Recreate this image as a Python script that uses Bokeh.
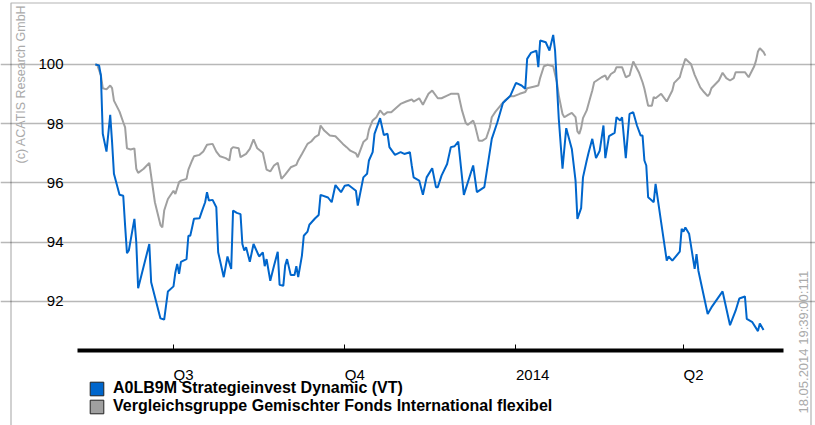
import math
import pandas as pd
from bokeh.plotting import figure
from bokeh.models import (Range1d, FixedTicker, Legend, LegendItem, Label, BoxAnnotation)
from bokeh.core.properties import value
from bokeh.embed import file_html
from bokeh.resources import INLINE

# ---------------- data ----------------
blue_name = "A0LB9M Strategieinvest Dynamic (VT)"
gray_name = "Vergleichsgruppe Gemischter Fonds International flexibel"

blue_dates = [
    "2013-05-20", "2013-05-22", "2013-05-23", "2013-05-24", "2013-05-26", "2013-05-28", "2013-05-29", "2013-05-30",
    "2013-06-02", "2013-06-04", "2013-06-05", "2013-06-06", "2013-06-07", "2013-06-10", "2013-06-11", "2013-06-12",
    "2013-06-18", "2013-06-19", "2013-06-24", "2013-06-26", "2013-06-28", "2013-07-01", "2013-07-02", "2013-07-03",
    "2013-07-04", "2013-07-05", "2013-07-08", "2013-07-09", "2013-07-10", "2013-07-11", "2013-07-12", "2013-07-15",
    "2013-07-16", "2013-07-18", "2013-07-19", "2013-07-20", "2013-07-22", "2013-07-24", "2013-07-25", "2013-07-28",
    "2013-07-30", "2013-07-31", "2013-08-01", "2013-08-02", "2013-08-04", "2013-08-06", "2013-08-07", "2013-08-08",
    "2013-08-09", "2013-08-11", "2013-08-13", "2013-08-16", "2013-08-18", "2013-08-19", "2013-08-20", "2013-08-22",
    "2013-08-24", "2013-08-26", "2013-08-27", "2013-08-29", "2013-08-30", "2013-08-31", "2013-09-02", "2013-09-04",
    "2013-09-05", "2013-09-06", "2013-09-08", "2013-09-09", "2013-09-11", "2013-09-12", "2013-09-15", "2013-09-17",
    "2013-09-18", "2013-09-22", "2013-09-24", "2013-09-26", "2013-09-29", "2013-10-01", "2013-10-03", "2013-10-07",
    "2013-10-08", "2013-10-11", "2013-10-13", "2013-10-14", "2013-10-16", "2013-10-17", "2013-10-20", "2013-10-22",
    "2013-10-24", "2013-10-25", "2013-10-28", "2013-10-31", "2013-11-02", "2013-11-05", "2013-11-06", "2013-11-07",
    "2013-11-10", "2013-11-12", "2013-11-14", "2013-11-17", "2013-11-19", "2013-11-20", "2013-11-22", "2013-11-25",
    "2013-11-27", "2013-11-29", "2013-12-01", "2013-12-04", "2013-12-09", "2013-12-11", "2013-12-15", "2013-12-19",
    "2013-12-22", "2013-12-25", "2013-12-29", "2014-01-01", "2014-01-04", "2014-01-06", "2014-01-07", "2014-01-09",
    "2014-01-12", "2014-01-13", "2014-01-14", "2014-01-17", "2014-01-19", "2014-01-21", "2014-01-22", "2014-01-24",
    "2014-01-26", "2014-01-28", "2014-01-31", "2014-02-02", "2014-02-03", "2014-02-05", "2014-02-06", "2014-02-08",
    "2014-02-09", "2014-02-11", "2014-02-13", "2014-02-15", "2014-02-17", "2014-02-18", "2014-02-20", "2014-02-23",
    "2014-02-24", "2014-02-26", "2014-02-27", "2014-03-01", "2014-03-03", "2014-03-05", "2014-03-07", "2014-03-09",
    "2014-03-10", "2014-03-11", "2014-03-12", "2014-03-13", "2014-03-15", "2014-03-16", "2014-03-17", "2014-03-20",
    "2014-03-23", "2014-03-24", "2014-03-26", "2014-03-30", "2014-03-31", "2014-04-01", "2014-04-02", "2014-04-04",
    "2014-04-07", "2014-04-08", "2014-04-09", "2014-04-14", "2014-04-16", "2014-04-22", "2014-04-26", "2014-04-29",
    "2014-05-01", "2014-05-04", "2014-05-05", "2014-05-08", "2014-05-11", "2014-05-12", "2014-05-14",
]
blue_values = [
    100.00, 99.97, 99.63, 97.66, 97.06, 98.30, 97.38, 96.31,
    95.60, 95.57, 94.56, 93.63, 93.72, 94.79, 94.00, 92.45,
    93.94, 92.65, 91.43, 91.39, 92.34, 92.51, 92.98, 93.27,
    92.93, 93.34, 93.43, 94.22, 94.22, 94.50, 94.79, 94.81,
    95.00, 95.35, 95.69, 95.41, 95.43, 95.18, 93.66, 92.82,
    93.52, 93.30, 93.10, 95.07, 94.99, 94.95, 93.94, 93.72,
    93.83, 93.34, 93.94, 93.52, 93.66, 93.19, 93.43, 92.70,
    93.21, 93.68, 92.56, 92.53, 93.21, 93.43, 92.89, 92.89,
    93.19, 92.82, 93.55, 94.22, 94.36, 94.59, 94.80, 94.92,
    95.60, 95.51, 95.35, 95.93, 95.69, 95.91, 95.93, 95.74,
    95.24, 96.19, 96.31, 96.76, 97.04, 97.66, 98.19, 97.62,
    97.66, 97.21, 96.95, 97.04, 96.98, 97.04, 96.59, 96.19,
    96.08, 95.60, 96.19, 96.50, 95.86, 95.86, 96.25, 96.64,
    97.21, 97.24, 97.40, 95.60, 96.59, 95.69, 95.86, 97.49,
    98.05, 98.70, 98.95, 99.38, 99.29, 99.18, 100.19, 100.39,
    100.47, 99.91, 100.81, 100.75, 100.47, 101.00, 100.47, 98.16,
    96.48, 97.85, 97.15, 96.08, 94.79, 95.15, 96.19, 96.76,
    97.02, 97.49, 96.84, 97.09, 97.94, 96.84, 97.58, 97.69,
    98.22, 98.11, 98.22, 96.84, 98.33, 98.39, 97.94, 97.60,
    97.60, 96.76, 96.59, 95.52, 95.41, 95.35, 95.97, 94.67,
    93.38, 93.52, 93.38, 93.68, 94.45, 94.36, 94.50, 94.29,
    93.10, 93.60, 93.04, 91.58, 91.80, 92.34, 91.20, 91.69,
    92.10, 92.17, 91.41, 91.30, 91.00, 91.26, 91.04,
]

gray_dates = [
    "2013-05-20", "2013-05-21", "2013-05-23", "2013-05-24", "2013-05-26", "2013-05-28", "2013-05-29", "2013-05-30",
    "2013-06-02", "2013-06-04", "2013-06-05", "2013-06-06", "2013-06-08", "2013-06-10", "2013-06-11", "2013-06-12",
    "2013-06-15", "2013-06-18", "2013-06-21", "2013-06-24", "2013-06-25", "2013-06-26", "2013-06-28", "2013-07-01",
    "2013-07-02", "2013-07-04", "2013-07-05", "2013-07-08", "2013-07-09", "2013-07-11", "2013-07-12", "2013-07-15",
    "2013-07-17", "2013-07-19", "2013-07-22", "2013-07-24", "2013-07-26", "2013-07-29", "2013-07-31", "2013-08-01",
    "2013-08-02", "2013-08-05", "2013-08-06", "2013-08-09", "2013-08-11", "2013-08-13", "2013-08-15", "2013-08-18",
    "2013-08-20", "2013-08-22", "2013-08-24", "2013-08-26", "2013-08-28", "2013-08-30", "2013-09-02", "2013-09-05",
    "2013-09-06", "2013-09-08", "2013-09-11", "2013-09-13", "2013-09-15", "2013-09-17", "2013-09-18", "2013-09-20",
    "2013-09-23", "2013-09-26", "2013-09-30", "2013-10-02", "2013-10-04", "2013-10-07", "2013-10-08", "2013-10-11",
    "2013-10-13", "2013-10-14", "2013-10-16", "2013-10-18", "2013-10-20", "2013-10-22", "2013-10-24", "2013-10-26",
    "2013-10-29", "2013-10-31", "2013-11-03", "2013-11-06", "2013-11-07", "2013-11-10", "2013-11-12", "2013-11-15",
    "2013-11-17", "2013-11-20", "2013-11-22", "2013-11-25", "2013-11-27", "2013-12-01", "2013-12-03", "2013-12-05",
    "2013-12-06", "2013-12-09", "2013-12-10", "2013-12-12", "2013-12-14", "2013-12-16", "2013-12-18", "2013-12-19",
    "2013-12-21", "2013-12-24", "2013-12-26", "2013-12-29", "2013-12-31", "2014-01-03", "2014-01-06", "2014-01-07",
    "2014-01-11", "2014-01-13", "2014-01-14", "2014-01-16", "2014-01-18", "2014-01-21", "2014-01-23", "2014-01-24",
    "2014-01-26", "2014-01-27", "2014-01-29", "2014-01-31", "2014-02-02", "2014-02-03", "2014-02-04", "2014-02-05",
    "2014-02-06", "2014-02-08", "2014-02-10", "2014-02-11", "2014-02-12", "2014-02-16", "2014-02-18", "2014-02-19",
    "2014-02-21", "2014-02-23", "2014-02-24", "2014-02-27", "2014-03-01", "2014-03-03", "2014-03-05", "2014-03-08",
    "2014-03-10", "2014-03-11", "2014-03-13", "2014-03-15", "2014-03-16", "2014-03-17", "2014-03-20", "2014-03-23",
    "2014-03-26", "2014-03-27", "2014-03-30", "2014-03-31", "2014-04-02", "2014-04-05", "2014-04-07", "2014-04-10",
    "2014-04-12", "2014-04-14", "2014-04-15", "2014-04-16", "2014-04-20", "2014-04-22", "2014-04-24", "2014-04-26",
    "2014-04-28", "2014-04-29", "2014-05-02", "2014-05-04", "2014-05-06", "2014-05-09", "2014-05-10", "2014-05-11",
    "2014-05-12", "2014-05-14", "2014-05-15",
]
gray_values = [
    100.00, 99.99, 99.63, 99.20, 99.16, 99.29, 99.20, 98.78,
    98.41, 98.05, 97.88, 97.17, 97.13, 97.17, 96.48, 96.34,
    96.48, 96.68, 95.35, 94.58, 94.50, 95.07, 95.46, 95.74,
    95.63, 96.03, 96.08, 96.14, 96.45, 96.76, 96.90, 96.95,
    97.06, 97.29, 97.32, 97.06, 96.90, 96.84, 96.76, 97.15,
    97.21, 97.17, 96.87, 96.98, 97.15, 97.47, 97.17, 97.02,
    96.45, 96.39, 96.59, 96.68, 96.14, 96.28, 96.53, 96.61,
    96.76, 96.98, 97.32, 97.40, 97.55, 97.62, 97.94, 97.77,
    97.60, 97.58, 97.32, 97.21, 97.09, 97.00, 96.87, 97.38,
    97.49, 97.80, 98.11, 98.22, 98.45, 98.30, 98.39, 98.39,
    98.56, 98.67, 98.75, 98.82, 98.75, 98.86, 98.64, 99.01,
    99.12, 98.86, 98.86, 98.95, 99.01, 99.01, 98.45, 98.03,
    97.96, 98.11, 97.94, 97.43, 97.43, 97.51, 97.88, 98.22,
    98.41, 98.64, 98.78, 98.93, 98.93, 99.01, 99.07, 99.20,
    99.26, 99.29, 99.55, 99.94, 99.99, 99.94, 99.40, 98.95,
    98.33, 98.22, 98.30, 98.37, 98.22, 97.74, 97.66, 97.85,
    98.19, 98.45, 98.90, 99.12, 99.40, 99.57, 99.63, 99.48,
    99.68, 99.76, 99.91, 99.91, 99.57, 99.63, 100.10, 99.74,
    99.40, 99.18, 98.61, 98.61, 98.90, 98.86, 99.01, 98.75,
    99.12, 99.38, 99.57, 99.80, 100.19, 100.02, 99.65, 99.23,
    99.07, 98.93, 99.01, 99.20, 99.46, 99.72, 99.54, 99.46,
    99.54, 99.74, 99.74, 99.74, 99.57, 99.94, 100.14, 100.44,
    100.55, 100.42, 100.30,
]

tick_dates = ["2013-07-01", "2013-10-01", "2014-01-01", "2014-04-01"]
tick_labels = ["Q3", "Q4", "2014", "Q2"]
y_ticks = [92, 94, 96, 98, 100]
copyright_text = "(c) ACATIS Research GmbH"
stamp_text = "18.05.2014 19:39:00:111"

# ---------------- layout (the frame covers the whole canvas) ----------------
W, H = 815, 425
X_START = pd.Timestamp("2013-03-30 01:19")
X_END = pd.Timestamp("2014-06-10 22:05")
Y_BOTTOM, Y_TOP = 87.814, 102.160


def ms(ts):
    return ts.value / 1e6


def x_at(px):          # canvas pixel -> datetime (ms)
    return ms(X_START) + (ms(X_END) - ms(X_START)) * px / W


def y_at(py):          # canvas pixel (from top) -> value
    return Y_TOP - (Y_TOP - Y_BOTTOM) * py / H


FONT = "Liberation Sans"
BLUE = "#0066cc"
GRAY = "#a0a0a0"

p = figure(
    width=W, height=H,
    x_axis_type="datetime",
    x_range=Range1d(X_START, X_END),
    y_range=Range1d(Y_BOTTOM, Y_TOP),
    output_backend="svg", toolbar_location=None,
    min_border=0, min_border_left=0, min_border_right=0, min_border_top=0, min_border_bottom=0,
)
p.outline_line_color = None
p.background_fill_color = "white"
p.border_fill_color = "white"

plot_left, plot_right = x_at(77), x_at(783)

# grid lines (y only), limited to the plot area
p.xgrid.grid_line_color = None
p.ygrid.ticker = FixedTicker(ticks=y_ticks)
p.ygrid.bounds = (plot_left, plot_right)
p.ygrid.grid_line_color = "#b8b8b8"
p.ygrid.grid_line_width = 1.5

# series
p.line(x=pd.to_datetime(gray_dates), y=gray_values, line_color=GRAY, line_width=2)
p.line(x=pd.to_datetime(blue_dates), y=blue_values, line_color=BLUE, line_width=2)

# x axis, fixed inside the canvas; its labels start at the tick (left aligned)
tick_ms = [ms(pd.Timestamp(d)) for d in tick_dates]
xa = p.xaxis[0]
xa.fixed_location = y_at(349.5)
xa.bounds = (plot_left, plot_right)
xa.ticker = FixedTicker(ticks=tick_ms)
xa.major_label_overrides = {t: "" for t in tick_ms}
xa.axis_line_color = "black"
xa.axis_line_width = 4
xa.major_tick_in = 6
xa.major_tick_out = 0
xa.major_tick_line_color = "black"
xa.major_tick_line_width = 1
xa.minor_tick_line_color = None
xa.minor_tick_in = 0
xa.minor_tick_out = 0

p.text(x=pd.to_datetime(tick_dates), y=[y_at(374)] * len(tick_dates), text=tick_labels,
       text_font=value(FONT), text_font_size="15px", text_color="black",
       text_align="left", text_baseline="middle")

# y axis, fixed at the left edge of the plot area
ya = p.yaxis[0]
ya.fixed_location = plot_left
ya.ticker = FixedTicker(ticks=y_ticks)
ya.axis_line_color = None
ya.major_tick_line_color = None
ya.minor_tick_line_color = None
ya.major_tick_in = 0
ya.major_tick_out = 0
ya.minor_tick_in = 0
ya.minor_tick_out = 0
ya.major_label_text_font = FONT
ya.major_label_text_font_size = "15px"
ya.major_label_text_color = "black"
ya.major_label_standoff = 14

# legend with square swatches (placeholder renderers hold no visible point)
nan = float("nan")
sw_blue = p.rect(x=[nan], y=[nan], width=1, height=1, fill_color=BLUE, line_color="#222222", line_width=1)
sw_gray = p.rect(x=[nan], y=[nan], width=1, height=1, fill_color=GRAY, line_color="#222222", line_width=1)
legend = Legend(
    items=[LegendItem(label=blue_name, renderers=[sw_blue]),
           LegendItem(label=gray_name, renderers=[sw_gray])],
    location=(88, 10), orientation="vertical",
    glyph_width=17, glyph_height=17, label_height=17, label_standoff=8, spacing=0,
    padding=0, margin=0, border_line_color=None, background_fill_alpha=0,
    label_text_font=FONT, label_text_font_style="bold", label_text_font_size="16px",
    label_text_color="black",
)
p.add_layout(legend)

# side texts (screen units: from the canvas bottom-left)
p.add_layout(Label(x=20, y=H - 163, x_units="screen", y_units="screen", angle=math.pi / 2,
                   text=copyright_text, text_font=FONT, text_font_size="12.5px",
                   text_color="#aaaaaa", text_align="left", text_baseline="middle"))
p.add_layout(Label(x=803, y=H - 413, x_units="screen", y_units="screen", angle=math.pi / 2,
                   text=stamp_text, text_font=FONT, text_font_size="13px",
                   text_color="#aaaaaa", text_align="left", text_baseline="middle"))

# outer frame
p.add_layout(BoxAnnotation(left=10.5, right=810.5, top=2.5, bottom=700,
                           left_units="canvas", right_units="canvas",
                           top_units="canvas", bottom_units="canvas",
                           fill_alpha=0, line_color="black", line_width=1.2))

open("out.html", "w").write(file_html(p, INLINE))
